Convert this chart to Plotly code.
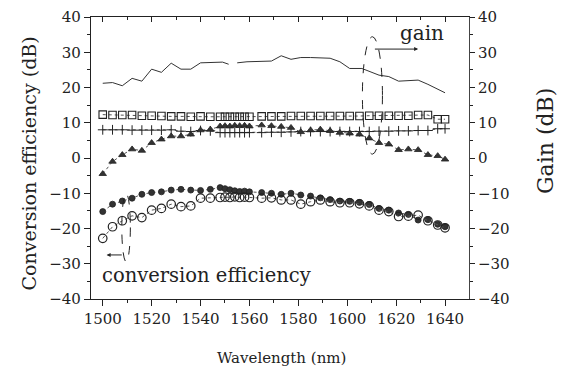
import plotly.graph_objects as go

# ---------------- data ----------------
wavelength = [1500, 1504, 1508, 1512, 1516, 1520, 1524, 1528, 1532, 1536, 1540, 1544,
              1548, 1550, 1552, 1554, 1556, 1558, 1560,
              1565, 1569, 1573, 1577, 1581, 1585, 1589, 1593, 1597, 1601, 1605, 1609,
              1613, 1617, 1621, 1625, 1629, 1633, 1637, 1640]

squares = [12.3, 12.2, 12.2, 12.2, 12.0, 12.0, 11.9, 11.8, 11.8, 11.7, 11.8, 11.7,
           11.7, 11.7, 11.7, 11.7, 11.7, 11.7, 11.7,
           11.8, 11.8, 11.8, 11.9, 11.9, 11.9, 11.9, 11.9, 11.9, 11.9, 11.9, 12.0,
           12.0, 12.0, 12.0, 12.0, 12.2, 12.2, 11.0, 11.0]

pluses = [8.0, 8.0, 8.0, 7.9, 7.9, 7.9, 7.9, 8.0, 7.6, 7.5, 7.8, 7.7,
          7.2, 7.2, 7.2, 7.2, 7.2, 7.2, 7.2,
          7.2, 7.3, 7.3, 7.4, 7.5, 7.5, 7.5, 7.5, 7.5, 7.5, 7.5, 7.5,
          7.6, 7.6, 7.7, 7.7, 7.8, 7.8, 8.3, 8.3]

triangles = [-4.5, -1.0, 0.9, 2.5, 2.1, 4.3, 5.3, 6.2, 6.2, 6.7, 7.9, 8.1,
             9.0, 9.1, 9.0, 9.2, 9.1, 9.2, 9.0,
             9.3, 9.1, 8.9, 8.6, 7.4, 7.9, 8.1, 7.7, 7.2, 7.0, 6.7, 5.6,
             4.3, 3.9, 2.3, 2.5, 2.3, 0.9, 0.6, -0.4]

filled_circles = [-15.2, -13.1, -12.2, -11.4, -10.3, -9.8, -9.6, -9.1, -8.9, -9.1, -9.2, -8.9,
                  -8.4, -8.7, -9.0, -9.3, -9.5, -9.4, -9.6,
                  -9.8, -10.0, -10.3, -10.0, -10.5, -10.8, -11.3, -11.8, -12.2, -12.3, -12.6, -13.2,
                  -14.3, -14.8, -15.6, -16.0, -17.6, -17.5, -18.8, -19.5]

open_circles = [-22.8, -19.5, -17.8, -16.4, -16.9, -14.8, -14.3, -13.1, -13.8, -13.6, -11.4, -11.4,
                -11.2, -11.1, -11.2, -11.0, -11.2, -11.1, -11.2,
                -11.4, -11.3, -11.9, -11.9, -13.1, -12.4, -11.9, -12.4, -12.7, -12.7, -13.0, -13.6,
                -14.8, -15.2, -16.6, -16.5, -16.2, -17.8, -19.0, -19.8]

gain_wavelength = [1500, 1504, 1508, 1512, 1516, 1520, 1524, 1528, 1532, 1536, 1540, 1544,
                   1549, 1551.5, 1553, 1555, 1559, 1569, 1573, 1577, 1581, 1585, 1593, 1597,
                   1601, 1606, 1613, 1617, 1621, 1629, 1633, 1640]
gain_line = [21.2, 21.4, 20.5, 22.6, 21.8, 25.2, 24.3, 26.9, 25.2, 25.2, 27.0, 27.0,
             27.2, 26.6, None, 27.0, 27.3, 27.5, 29.0, 28.0, 28.5, 28.5, 28.3, 27.3,
             25.4, 25.4, 23.5, 23.1, 21.8, 22.1, 20.9, 18.5]

x_ticks = [1500, 1520, 1540, 1560, 1580, 1600, 1620, 1640]
y_ticks = [-40, -30, -20, -10, 0, 10, 20, 30, 40]

FONT = "DejaVu Serif"
INK = "#222222"
X_RANGE = [1495.2, 1649.8]
Y_RANGE = [-40, 40]

fig = go.Figure()

dot_line = dict(color="#555555", width=1, dash="dot")

fig.add_trace(go.Scatter(x=wavelength, y=squares, mode="lines+markers", line=dot_line,
                         marker=dict(symbol="square-open", size=7.5, color=INK, line=dict(width=1.1)),
                         yaxis="y2", showlegend=False))
fig.add_trace(go.Scatter(x=wavelength, y=pluses, mode="lines+markers", line=dot_line,
                         marker=dict(symbol="cross-thin", size=7, color=INK, line=dict(width=1, color=INK)),
                         showlegend=False))
fig.add_trace(go.Scatter(x=wavelength, y=triangles, mode="lines+markers", line=dot_line,
                         marker=dict(symbol="triangle-up", size=6.5, color="#333333",
                                     line=dict(width=0.8, color=INK)),
                         showlegend=False))
fig.add_trace(go.Scatter(x=wavelength, y=filled_circles, mode="lines+markers", line=dot_line,
                         marker=dict(symbol="circle", size=6, color="#333333",
                                     line=dict(width=0.8, color=INK)),
                         showlegend=False))
fig.add_trace(go.Scatter(x=wavelength, y=open_circles, mode="lines+markers", line=dot_line,
                         marker=dict(symbol="circle-open", size=8.5, color=INK, line=dict(width=1.2)),
                         showlegend=False))
fig.add_trace(go.Scatter(x=gain_wavelength, y=gain_line, mode="lines",
                         line=dict(color="#333333", width=1), connectgaps=False,
                         yaxis="y2", showlegend=False))
# invisible trace to anchor the top axis
fig.add_trace(go.Scatter(x=[X_RANGE[0]], y=[0], xaxis="x2", mode="markers",
                         marker=dict(opacity=0), showlegend=False, hoverinfo="skip"))

# ellipses
fig.add_shape(type="circle", xref="x", yref="y", x0=1606.2, x1=1614.4, y0=1.1, y1=34.4,
              line=dict(color=INK, width=1, dash="dash"))
fig.add_shape(type="circle", xref="x", yref="y", x0=1507.8, x1=1511.3, y0=-29.4, y1=-10.0,
              line=dict(color=INK, width=1, dash="dash"))

# arrows
fig.add_annotation(x=1629.0, y=30.9, ax=1610.7, ay=30.9, xref="x", yref="y", axref="x", ayref="y",
                   text="", showarrow=True, arrowhead=2, arrowsize=0.8, arrowwidth=1, arrowcolor=INK)
fig.add_annotation(x=1501.6, y=-27.5, ax=1508.4, ay=-27.5, xref="x", yref="y", axref="x", ayref="y",
                   text="", showarrow=True, arrowhead=2, arrowsize=0.8, arrowwidth=1, arrowcolor=INK)

# texts
fig.add_annotation(x=1630.4, y=35.5, xref="x", yref="y", text="gain", showarrow=False,
                   font=dict(family=FONT, size=20, color=INK))
fig.add_annotation(x=1542.3, y=-33.2, xref="x", yref="y", text="conversion efficiency",
                   showarrow=False, font=dict(family=FONT, size=19.5, color=INK))

# axis titles
fig.add_annotation(x=-0.1614, y=0.4805, xref="paper", yref="paper", text="Conversion efficiency (dB)",
                   textangle=-90, showarrow=False, xanchor="center", yanchor="middle",
                   font=dict(family=FONT, size=19, color=INK))
fig.add_annotation(x=1.2037, y=0.5603, xref="paper", yref="paper", text="Gain (dB)",
                   textangle=-90, showarrow=False, xanchor="center", yanchor="middle",
                   font=dict(family=FONT, size=22, color=INK))
fig.add_annotation(x=0.504, y=-0.2092, xref="paper", yref="paper", text="Wavelength (nm)",
                   showarrow=False, xanchor="center", yanchor="middle",
                   font=dict(family=FONT, size=15, color=INK))

tickfont = dict(family=FONT, size=15, color=INK)

fig.update_layout(
    width=562, height=371,
    margin=dict(l=91, r=93, t=17, b=72),
    paper_bgcolor="white", plot_bgcolor="white",
    font=dict(family=FONT, color=INK),
    xaxis=dict(range=X_RANGE, tickvals=x_ticks, ticks="outside", ticklen=6, tickwidth=1,
               tickcolor=INK, showgrid=False, zeroline=False, showline=True, linecolor=INK,
               linewidth=1.3, mirror=True, tickfont=tickfont, automargin=False,
               minor=dict(dtick=10, tick0=1500, ticks="outside", ticklen=3, tickcolor=INK)),
    xaxis2=dict(range=X_RANGE, overlaying="x", side="top", tickvals=x_ticks, ticks="inside",
                ticklen=5, tickcolor=INK, showticklabels=False, showgrid=False, zeroline=False,
                showline=False, automargin=False,
                minor=dict(dtick=10, tick0=1500, ticks="inside", ticklen=3, tickcolor=INK)),
    yaxis=dict(range=Y_RANGE, tickvals=y_ticks, ticks="outside", ticklen=6, tickcolor=INK,
               showgrid=False, zeroline=False, showline=True, linecolor=INK, linewidth=1.3,
               tickfont=tickfont, automargin=False,
               minor=dict(dtick=5, tick0=0, ticks="outside", ticklen=3, tickcolor=INK)),
    yaxis2=dict(range=Y_RANGE, overlaying="y", side="right", tickvals=y_ticks, ticks="outside",
                ticklen=5, tickcolor=INK, showgrid=False, zeroline=False, showline=True,
                linecolor="#444444", linewidth=1, tickfont=tickfont, automargin=False,
                minor=dict(dtick=5, tick0=0, ticks="outside", ticklen=3, tickcolor=INK)),
)

fig.write_html("out.html", config={"displayModeBar": False},
               post_script="document.body.style.margin='0';")
